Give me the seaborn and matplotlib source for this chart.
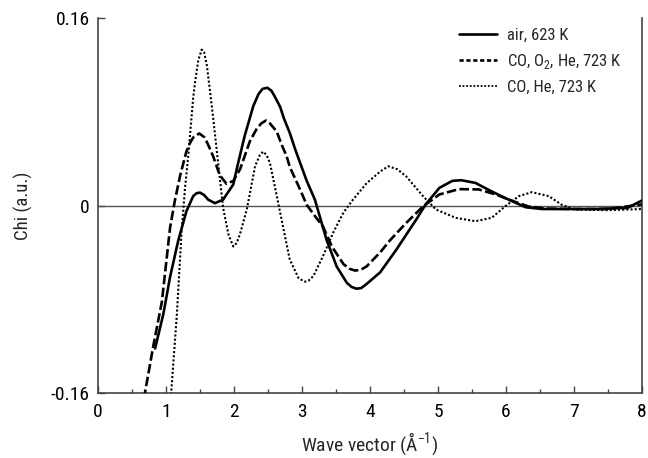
import numpy as np
import pandas as pd
import matplotlib
matplotlib.use("Agg")
import matplotlib.pyplot as plt
from matplotlib.lines import Line2D
from matplotlib.ticker import MultipleLocator
from matplotlib import font_manager
import seaborn as sns

# EXAFS chi(k) for three treatment conditions
air_k = [0.84, 0.96, 1.06, 1.18, 1.30, 1.40, 1.45, 1.50, 1.56, 1.62, 1.72, 1.84,
         1.99, 2.06, 2.16, 2.235, 2.285, 2.36, 2.42, 2.49, 2.55, 2.60, 2.68, 2.73,
         2.82, 2.90, 2.95, 3.07, 3.19, 3.26, 3.36, 3.51, 3.66, 3.73, 3.80, 3.87,
         3.95, 4.15, 4.39, 4.68, 4.82, 5.02, 5.21, 5.34, 5.55, 5.79, 6.04, 6.29,
         6.53, 6.82, 7.31, 7.79, 7.99]
air_chi = [-0.122, -0.093, -0.061, -0.030, -0.005, 0.008, 0.0105, 0.011, 0.009, 0.005,
           0.002, 0.005, 0.018, 0.036, 0.060, 0.075, 0.085, 0.095, 0.0995, 0.1005,
           0.098, 0.093, 0.084, 0.075, 0.062, 0.048, 0.040, 0.021, 0.005, -0.009,
           -0.029, -0.052, -0.066, -0.0695, -0.071, -0.0705, -0.067, -0.057, -0.0375,
           -0.012, 0.001, 0.015, 0.021, 0.0216, 0.0193, 0.012, 0.005, -0.0015,
           -0.003, -0.003, -0.003, -0.002, 0.004]

co_o2_k = [0.675, 0.81, 0.94, 1.06, 1.13, 1.21, 1.30, 1.35, 1.40, 1.49, 1.57, 1.65,
           1.70, 1.79, 1.89, 1.99, 2.09, 2.235, 2.33, 2.40, 2.47, 2.53, 2.63, 2.70,
           2.775, 2.82, 2.95, 3.07, 3.19, 3.31, 3.44, 3.61, 3.70, 3.78, 3.86, 3.95,
           4.15, 4.29, 4.53, 4.78, 5.02, 5.31, 5.60, 5.85, 6.09, 6.33, 6.58, 7.0,
           7.5, 8.0]
co_o2_chi = [-0.165, -0.121, -0.082, -0.019, 0.004, 0.026, 0.046, 0.053, 0.058, 0.0615,
             0.058, 0.048, 0.041, 0.026, 0.0185, 0.021, 0.031, 0.055, 0.065, 0.070,
             0.0725, 0.070, 0.063, 0.052, 0.042, 0.033, 0.0165, 0.0006, -0.009,
             -0.018, -0.035, -0.050, -0.054, -0.0555, -0.055, -0.052, -0.040, -0.030,
             -0.015, -0.0008, 0.0094, 0.014, 0.0137, 0.0094, 0.004, -0.0008, -0.0026,
             -0.003, -0.003, 0.001]

co_he_k = [1.07, 1.16, 1.23, 1.28, 1.33, 1.40, 1.43, 1.475, 1.525, 1.56, 1.60, 1.67,
           1.745, 1.84, 1.92, 1.99, 2.04, 2.09, 2.19, 2.31, 2.38, 2.43, 2.48, 2.53,
           2.63, 2.73, 2.82, 2.95, 3.04, 3.10, 3.17, 3.31, 3.46, 3.61, 3.75, 3.95,
           4.15, 4.27, 4.40, 4.53, 4.78, 4.97, 5.26, 5.55, 5.79, 5.99, 6.19, 6.38,
           6.63, 6.82, 7.01, 7.5, 8.0]
co_he_chi = [-0.165, -0.093, -0.022, 0.015, 0.0435, 0.092, 0.106, 0.124, 0.133, 0.131,
             0.120, 0.087, 0.048, -0.002, -0.025, -0.035, -0.032, -0.024, -0.003,
             0.0335, 0.043, 0.046, 0.043, 0.036, 0.008, -0.0205, -0.046, -0.062,
             -0.065, -0.064, -0.060, -0.043, -0.023, -0.006, 0.005, 0.019, 0.029,
             0.0335, 0.031, 0.025, 0.008, -0.0034, -0.0105, -0.0134, -0.0105,
             -0.0006, 0.008, 0.0114, 0.008, 0.0006, -0.0034, -0.004, -0.003]

labels = ["air, 623 K", r"CO, O$_{\mathregular{2}}$, He, 723 K", "CO, He, 723 K"]
y_ticks = [-0.16, 0, 0.16]
y_tick_labels = ["-0.16", "0", "0.16"]
x_ticks = [0, 1, 2, 3, 4, 5, 6, 7, 8]

sns.set_style("ticks")

# prefer a narrow face when one is installed
names = {f.name for f in font_manager.fontManager.ttflist}
narrow = [n for n in ["Liberation Sans Narrow", "Arial Narrow", "Roboto Condensed",
                      "Open Sans Condensed"] if n in names]
plt.rcParams["font.family"] = narrow + ["DejaVu Sans"]
plt.rcParams["font.stretch"] = "condensed"
plt.rcParams["mathtext.fontset"] = "custom"
plt.rcParams["mathtext.rm"] = (narrow + ["DejaVu Sans"])[0] + ":stretch=condensed"

fig = plt.figure(figsize=(6.48, 4.58), dpi=100)
ax = fig.add_axes([0.1512, 0.1419, 0.8395, 0.8188])

spine_col = "#444444"
ax.axhline(0, color="#555555", lw=1.0, zorder=1)

styles = [
    dict(lw=1.9, linestyle="-"),
    dict(lw=1.9, dashes=(3.6, 1.3)),
    dict(lw=1.5, dashes=(1.0, 1.0)),
]
series = [(air_k, air_chi), (co_o2_k, co_o2_chi), (co_he_k, co_he_chi)]
for (k, chi), st in zip(series, styles):
    df = pd.DataFrame({"k": k, "chi": chi})
    sns.lineplot(data=df, x="k", y="chi", ax=ax, color="black", estimator=None,
                 legend=False, zorder=3, **st)

ax.set_xlim(0, 8)
ax.set_ylim(-0.16, 0.16)
ax.set_xticks(x_ticks)
ax.xaxis.set_minor_locator(MultipleLocator(0.5))
ax.set_yticks(y_ticks)
ax.set_yticklabels(y_tick_labels)

ax.tick_params(axis="both", which="both", direction="in", colors=spine_col,
               labelcolor="black", labelsize=14, width=1.0)
ax.tick_params(axis="x", which="major", length=5, pad=7)
ax.tick_params(axis="x", which="minor", length=3)
ax.tick_params(axis="y", which="major", length=5, pad=6)

for side in ["left", "bottom", "right"]:
    ax.spines[side].set_color(spine_col)
    ax.spines[side].set_linewidth(1.2)
ax.spines["top"].set_visible(False)

ax.set_xlabel(r"Wave vector (Å$^{\mathregular{-1}}$)", fontsize=14, labelpad=7)
ax.set_ylabel("Chi (a.u.)", fontsize=13.5, labelpad=13)

handles = [
    Line2D([], [], color="black", lw=1.9, linestyle="-"),
    Line2D([], [], color="black", lw=1.9, dashes=(1.6, 1.0)),
    Line2D([], [], color="black", lw=1.3, dashes=(1.0, 1.0)),
]
ax.legend(handles, labels, loc="upper right", bbox_to_anchor=(0.99, 1.015),
          frameon=False, fontsize=12, handlelength=2.3, handletextpad=0.6,
          labelspacing=0.55)

fig.savefig("out.png", dpi=100)
